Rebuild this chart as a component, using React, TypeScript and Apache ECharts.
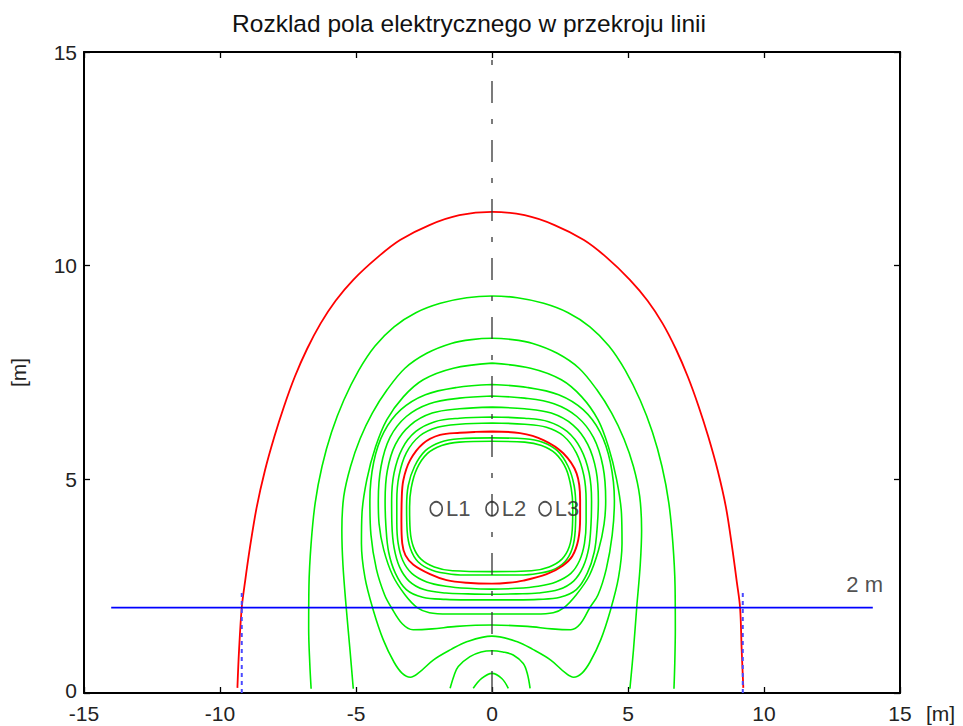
import React, { useEffect, useRef } from "react";
import * as echarts from "echarts";

type P = [number, number];

const titleText = "Rozklad pola elektrycznego w przekroju linii";
const axisUnit = "[m]";

// outer red contour (open at ground)
const redOuter: P[] = [
  [-9.36, 0.12], [-9.3, 1.0], [-9.2, 2.0], [-9.08, 2.6], [-8.9, 3.4], [-8.65, 4.35], [-8.35, 5.2],
  [-8.0, 6.0], [-7.65, 6.7], [-7.25, 7.4], [-6.8, 8.05], [-6.3, 8.65], [-5.75, 9.18], [-5.1, 9.67],
  [-4.2, 10.2], [-3.38, 10.6], [-2.3, 10.95], [-1.2, 11.18], [0, 11.26], [1.2, 11.18], [2.3, 10.95],
  [3.38, 10.6], [4.2, 10.2], [5.07, 9.67], [5.72, 9.18], [6.27, 8.65], [6.76, 8.05], [7.2, 7.4],
  [7.6, 6.7], [7.95, 6.0], [8.3, 5.2], [8.6, 4.35], [8.83, 3.4], [9.0, 2.6], [9.12, 2.0], [9.18, 1.0],
  [9.24, 0.12],
];

// inner red contour (closed)
const redInner: P[] = [
  [0, 6.12], [-0.6, 6.11], [-1.18, 6.09], [-1.91, 6.04], [-2.53, 5.84], [-3.01, 5.45], [-3.26, 4.98],
  [-3.32, 4.52], [-3.33, 4.0], [-3.3, 3.5], [-3.18, 3.22], [-2.89, 3.0], [-2.28, 2.78], [-1.67, 2.64],
  [-0.93, 2.58], [0, 2.56], [0.6, 2.58], [1.15, 2.63], [2.01, 2.78], [2.6, 2.98], [2.95, 3.2],
  [3.17, 3.58], [3.24, 4.1], [3.24, 4.52], [3.11, 5.14], [2.62, 5.61], [1.89, 5.92], [1.03, 6.08], [0, 6.12],
];

const greenI1: P[] = [
  [0, 5.97], [-1.2, 5.95], [-1.9, 5.87], [-2.45, 5.67], [-2.85, 5.3], [-3.08, 4.85], [-3.14, 4.35],
  [-3.12, 3.8], [-3.0, 3.38], [-2.72, 3.07], [-2.2, 2.87], [-1.5, 2.78], [-0.7, 2.76], [0, 2.76],
  [0.7, 2.76], [1.5, 2.78], [2.2, 2.87], [2.68, 3.07], [2.95, 3.38], [3.06, 3.8], [3.08, 4.35],
  [3.02, 4.85], [2.8, 5.3], [2.4, 5.67], [1.86, 5.87], [1.2, 5.95], [0, 5.97],
];
const greenI2: P[] = [
  [0, 5.89], [-1.2, 5.87], [-1.85, 5.79], [-2.38, 5.6], [-2.76, 5.25], [-2.97, 4.8], [-3.03, 4.35],
  [-3.01, 3.82], [-2.89, 3.42], [-2.62, 3.14], [-2.12, 2.95], [-1.45, 2.86], [0, 2.84], [1.45, 2.86],
  [2.1, 2.95], [2.58, 3.14], [2.84, 3.42], [2.95, 3.82], [2.97, 4.35], [2.91, 4.8], [2.72, 5.25],
  [2.34, 5.6], [1.82, 5.79], [1.2, 5.87], [0, 5.89],
];
const greenC1: P[] = [
  [0, 6.32], [-1.2, 6.29], [-2.0, 6.22], [-2.65, 6.02], [-3.15, 5.62], [-3.42, 5.08], [-3.5, 4.5],
  [-3.5, 4.0], [-3.45, 3.5], [-3.28, 3.1], [-2.95, 2.8], [-2.4, 2.6], [-1.7, 2.5], [-0.9, 2.45], [0, 2.43],
  [0.9, 2.45], [1.7, 2.5], [2.35, 2.6], [2.9, 2.8], [3.22, 3.1], [3.4, 3.5], [3.46, 4.0], [3.46, 4.5],
  [3.38, 5.08], [3.1, 5.62], [2.62, 6.02], [2.0, 6.22], [1.2, 6.29], [0, 6.32],
];
const greenC2: P[] = [
  [0, 6.46], [-1.2, 6.43], [-2.1, 6.35], [-2.8, 6.12], [-3.3, 5.72], [-3.6, 5.15], [-3.69, 4.5],
  [-3.68, 3.95], [-3.6, 3.4], [-3.4, 2.95], [-3.05, 2.62], [-2.5, 2.42], [-1.7, 2.34], [-0.9, 2.32], [0, 2.31],
  [0.9, 2.32], [1.7, 2.34], [2.45, 2.42], [3.0, 2.62], [3.35, 2.95], [3.56, 3.4], [3.64, 3.95], [3.66, 4.5],
  [3.57, 5.15], [3.26, 5.72], [2.76, 6.12], [2.08, 6.35], [1.2, 6.43], [0, 6.46],
];
const greenC3: P[] = [
  [0, 6.69], [-1.2, 6.65], [-2.2, 6.55], [-3.0, 6.27], [-3.55, 5.82], [-3.85, 5.2], [-3.93, 4.5],
  [-3.9, 3.9], [-3.8, 3.3], [-3.55, 2.8], [-3.15, 2.42], [-2.55, 2.24], [-1.7, 2.19], [-0.9, 2.18], [0, 2.18],
  [0.9, 2.18], [1.7, 2.19], [2.5, 2.24], [3.1, 2.42], [3.5, 2.8], [3.76, 3.3], [3.87, 3.9], [3.91, 4.5],
  [3.83, 5.2], [3.52, 5.82], [2.98, 6.27], [2.18, 6.55], [1.2, 6.65], [0, 6.69],
];
const greenC4: P[] = [
  [0, 6.95], [-1.2, 6.9], [-2.3, 6.77], [-3.15, 6.47], [-3.75, 5.98], [-4.08, 5.3], [-4.18, 4.5],
  [-4.15, 3.95], [-3.98, 3.35], [-3.65, 2.75], [-3.2, 2.3], [-2.75, 2.0], [-2.3, 1.88], [-1.6, 1.85],
  [-0.8, 1.85], [0, 1.85], [0.8, 1.85], [1.6, 1.85], [2.25, 1.88], [2.65, 2.0], [3.1, 2.3], [3.58, 2.75],
  [3.92, 3.35], [4.12, 3.95], [4.18, 4.5], [4.08, 5.3], [3.73, 5.98], [3.12, 6.47], [2.28, 6.77],
  [1.2, 6.9], [0, 6.95],
];
const greenC5: P[] = [
  [0, 7.22], [-1.3, 7.15], [-2.45, 6.98], [-3.35, 6.63], [-3.98, 6.1], [-4.35, 5.4], [-4.49, 4.5],
  [-4.45, 3.7], [-4.25, 2.9], [-3.95, 2.3], [-3.7, 2.0], [-3.3, 1.62], [-2.9, 1.48], [-2.2, 1.5],
  [-1.3, 1.56], [0, 1.59], [1.3, 1.56], [2.2, 1.5], [2.9, 1.48], [3.25, 1.62], [3.6, 2.0], [3.9, 2.3],
  [4.2, 2.9], [4.42, 3.7], [4.5, 4.5], [4.35, 5.4], [3.98, 6.1], [3.35, 6.63], [2.45, 6.98],
  [1.3, 7.15], [0, 7.22],
];
const greenC6: P[] = [
  [0, 7.72], [-1.42, 7.6], [-2.53, 7.33], [-3.26, 6.93], [-3.87, 6.39], [-4.28, 5.76], [-4.6, 5.0],
  [-4.78, 4.2], [-4.8, 3.5], [-4.67, 2.7], [-4.37, 1.95], [-4.0, 1.25], [-3.6, 0.72], [-3.3, 0.46],
  [-3.0, 0.37], [-2.7, 0.47], [-2.16, 0.77], [-1.5, 1.02], [-0.93, 1.2], [0, 1.33], [0.93, 1.2],
  [1.5, 1.02], [2.16, 0.77], [2.7, 0.47], [3.0, 0.37], [3.3, 0.46], [3.6, 0.72], [4.0, 1.25],
  [4.36, 1.95], [4.65, 2.7], [4.78, 3.5], [4.76, 4.2], [4.58, 5.0], [4.28, 5.76], [3.9, 6.39],
  [3.3, 6.93], [2.55, 7.33], [1.42, 7.6], [0, 7.72],
];
const greenG2: P[] = [
  [-5.1, 0.1], [-5.22, 1.0], [-5.36, 2.0], [-5.48, 3.0], [-5.52, 3.8], [-5.45, 4.6], [-5.2, 5.3],
  [-4.85, 5.95], [-4.4, 6.55], [-3.85, 7.1], [-3.2, 7.6], [-2.4, 7.95], [-1.5, 8.18], [-0.75, 8.27],
  [0, 8.3], [0.75, 8.27], [1.5, 8.18], [2.4, 7.95], [3.2, 7.6], [3.85, 7.1], [4.4, 6.55], [4.85, 5.95],
  [5.2, 5.3], [5.43, 4.6], [5.5, 3.8], [5.45, 3.0], [5.32, 2.0], [5.2, 1.0], [5.07, 0.1],
];
const greenG1: P[] = [
  [-6.65, 0.1], [-6.7, 0.7], [-6.74, 1.5], [-6.73, 2.5], [-6.65, 3.5], [-6.5, 4.45], [-6.25, 5.3],
  [-5.9, 6.1], [-5.45, 6.85], [-4.9, 7.55], [-4.3, 8.12], [-3.6, 8.57], [-2.8, 8.9], [-1.9, 9.12],
  [-0.93, 9.25], [0, 9.29], [0.93, 9.25], [1.9, 9.12], [2.8, 8.9], [3.6, 8.57], [4.3, 8.12],
  [4.9, 7.55], [5.45, 6.85], [5.9, 6.1], [6.25, 5.3], [6.5, 4.45], [6.65, 3.5], [6.73, 2.5],
  [6.74, 1.5], [6.72, 0.7], [6.69, 0.1],
];
const greenA1: P[] = [
  [-1.54, 0.11], [-1.4, 0.4], [-1.24, 0.62], [-0.81, 0.85], [-0.4, 0.96], [0, 0.99], [0.4, 0.96],
  [0.78, 0.89], [1.15, 0.69], [1.3, 0.45], [1.4, 0.11],
];
const greenA2: P[] = [[-0.69, 0.11], [-0.38, 0.34], [0, 0.46], [0.36, 0.34], [0.6, 0.11]];

const greenContours: P[][] = [greenG1, greenG2, greenC6, greenC5, greenC4, greenC3, greenC2, greenC1, greenI1, greenI2, greenA1, greenA2];

// 2 m reference line and verticals
const blueLine: P[] = [[-14, 2], [14, 2]];
const blueDashLeft: P[] = [[-9.2, 0], [-9.2, 2.35]];
const blueDashRight: P[] = [[9.22, 0], [9.22, 2.35]];
const blueLabelPos: P = [13.7, 2.55];
const blueLabelText = "2 m";

// symmetry axis
const axisLine0: P[] = [[0, 0], [0, 15]];

// conductors
const conductorNames = ["L1", "L2", "L3"];
const conductorX = [-2.05, 0, 1.95];
const conductorY = [4.31, 4.31, 4.31];

const FONT = "'Liberation Sans', Arial, Helvetica, sans-serif";
const FS = 21;

function lineSeries(data: P[], color: string, width: number, type: any = "solid", z = 2, smooth: any = 0.35) {
  return {
    type: "line",
    data,
    showSymbol: false,
    symbol: "none",
    silent: true,
    smooth,
    z,
    lineStyle: { color, width, type },
  };
}

export default function App() {
  const ref = useRef<HTMLDivElement>(null);
  useEffect(() => {
    document.body.style.margin = "0";
    const chart = echarts.init(ref.current!, null, { renderer: "svg" });
    const axisCommon = {
      type: "value",
      axisLine: { show: true, onZero: false, lineStyle: { color: "#000", width: 2 } },
      axisTick: { show: true, inside: true, length: 6, lineStyle: { color: "#000", width: 1.3 } },
      splitLine: { show: false },
    };
    const series: any[] = [];
    series.push(lineSeries(redOuter, "#ff0000", 1.8));
    greenContours.forEach((c) => series.push(lineSeries(c, "#00ee00", 1.6)));
    series.push(lineSeries(redInner, "#ff0000", 1.9));
    series.push(lineSeries(blueLine, "#0000ff", 1.8, "solid", 3, false));
    series.push(lineSeries(blueDashLeft, "#4a4aff", 2, [4, 4], 3, false));
    series.push(lineSeries(blueDashRight, "#4a4aff", 2, [4, 4], 3, false));
    series.push(lineSeries(axisLine0, "#333333", 1.3, [22, 16, 5, 16], 4, false));
    series.push({
      type: "scatter",
      z: 5,
      silent: true,
      symbol: "circle",
      symbolSize: [12, 14],
      itemStyle: { color: "rgba(255,255,255,0)", borderColor: "#222", borderWidth: 1.7 },
      data: conductorX.map((x, i) => ({ name: conductorNames[i], value: [x, conductorY[i]] })),
      label: {
        show: true,
        position: "right",
        distance: 3,
        formatter: (p: any) => p.name,
        fontSize: 22,
        color: "#222",
        fontFamily: FONT,
      },
    });
    series.push({
      type: "scatter",
      z: 5,
      silent: true,
      symbolSize: 0,
      data: [{ name: blueLabelText, value: blueLabelPos }],
      label: {
        show: true,
        position: "inside",
        formatter: (p: any) => p.name,
        fontSize: 22,
        color: "#222",
        fontFamily: FONT,
      },
    });

    chart.setOption({
      animation: false,
      backgroundColor: "#ffffff",
      title: {
        text: titleText,
        left: 464,
        top: 6,
        textAlign: "center",
        textStyle: { fontSize: 24.5, fontWeight: "normal", color: "#111", fontFamily: FONT },
      },
      grid: { left: 84, right: 63, top: 52, bottom: 33, containLabel: false },
      xAxis: [
        {
          ...axisCommon,
          position: "bottom",
          min: -15,
          max: 15,
          interval: 5,
          axisLabel: { fontSize: FS, color: "#222", margin: 10, fontFamily: FONT },
        },
        { ...axisCommon, position: "top", min: -15, max: 15, interval: 5, axisLabel: { show: false } },
      ],
      yAxis: [
        {
          ...axisCommon,
          position: "left",
          min: 0,
          max: 15,
          interval: 5,
          axisLabel: {
            fontSize: FS,
            color: "#222",
            margin: 7,
            fontFamily: FONT,
            formatter: (v: number) => (v === 0 ? "{z|0}" : String(v)),
            rich: { z: { fontSize: FS, color: "#222", fontFamily: FONT, padding: [0, 0, 6, 0] } },
          },
          name: axisUnit,
          nameLocation: "middle",
          nameGap: 55,
          nameTextStyle: { fontSize: FS, color: "#222", fontFamily: FONT },
        },
        { ...axisCommon, position: "right", min: 0, max: 15, interval: 5, axisLabel: { show: false } },
      ],
      graphic: [
        {
          type: "text",
          left: 926,
          top: 703,
          silent: true,
          style: { text: axisUnit, fontSize: FS, fill: "#222", fontFamily: FONT },
        },
      ],
      series,
    });
    return () => chart.dispose();
  }, []);
  return <div ref={ref} style={{ position: "absolute", left: 0, top: 0, width: 963, height: 726 }} />;
}
